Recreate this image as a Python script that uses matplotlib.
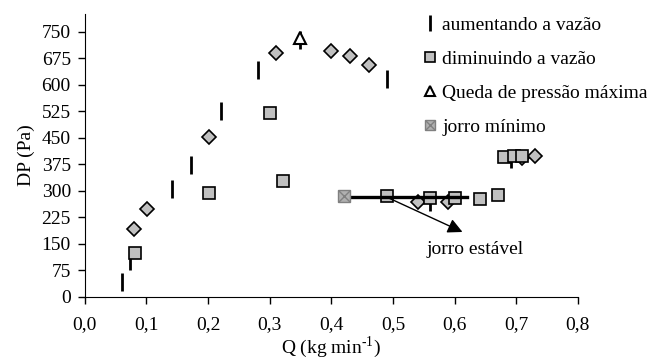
import matplotlib.pyplot as plt
from matplotlib.ticker import MultipleLocator, FuncFormatter

plt.rcParams['font.family'] = ['Liberation Serif', 'DejaVu Serif']
plt.rcParams['mathtext.fontset'] = 'custom'
plt.rcParams['mathtext.rm'] = 'Liberation Serif'

# aumentando a vazão
q_up = [0.061, 0.073, 0.141, 0.172, 0.221, 0.281, 0.350, 0.491, 0.560, 0.691]
dp_up = [42, 100, 305, 374, 527, 643, 728, 615, 268, 390]

# diminuindo a vazão
q_down = [0.081, 0.201, 0.300, 0.321, 0.490, 0.561, 0.601, 0.641, 0.671, 0.680, 0.696, 0.710]
dp_down = [123, 295, 520, 328, 284, 279, 279, 276, 288, 395, 399, 399]

# pontos sem legenda (losangos)
q_dia = [0.080, 0.101, 0.201, 0.311, 0.399, 0.431, 0.461, 0.540, 0.589, 0.710, 0.730]
dp_dia = [191, 249, 451, 690, 696, 682, 656, 268, 268, 392, 399]

# queda de pressão máxima e jorro mínimo
q_max, dp_max = [0.350], [731]
q_min, dp_min = [0.420], [285]

# jorro estável
q_est = [0.420, 0.620]
dp_est = [281, 281]

fig = plt.figure(figsize=(6.47, 3.61), dpi=100)
ax = fig.add_axes([0.131, 0.178, 0.762, 0.783])

gray = '#c0c0c0'
ax.plot(q_dia, dp_dia, ls='none', marker='D', ms=7, mfc=gray, mec='black', mew=1.2, zorder=2)
h_up, = ax.plot(q_up, dp_up, ls='none', marker='|', ms=13, mew=2, color='black', zorder=3)
h_down, = ax.plot(q_down, dp_down, ls='none', marker='s', ms=9, mfc=gray, mec='black', mew=1.2, zorder=4)
ax.plot(q_est, dp_est, color='black', lw=2.4, zorder=5)
h_min1, = ax.plot(q_min, dp_min, ls='none', marker='s', ms=9, mfc='#b0b0b0', mec='#808080', mew=1, zorder=6)
h_min2, = ax.plot(q_min, dp_min, ls='none', marker='x', ms=8, mec='#808080', mew=1, zorder=7)
h_max, = ax.plot(q_max, dp_max, ls='none', marker='^', ms=9, mfc='white', mec='black', mew=1.5, zorder=8)

ax.annotate('', xy=(0.617, 180), xytext=(0.49, 282),
            arrowprops=dict(arrowstyle='-|>', mutation_scale=22, lw=1, color='black'), zorder=5)
ax.text(0.634, 135, 'jorro estável', ha='center', va='center', fontsize=14)

ax.set_xlim(0, 0.8)
ax.set_ylim(0, 800)
ax.xaxis.set_major_locator(MultipleLocator(0.1))
ax.set_yticks(range(0, 751, 75))
ax.xaxis.set_major_formatter(FuncFormatter(lambda v, p: f'{v:.1f}'.replace('.', ',')))
ax.tick_params(axis='both', labelsize=14, direction='out', length=5, width=1)
ax.tick_params(axis='x', pad=9)
ax.tick_params(axis='y', pad=5)
for side in ['top', 'right']:
    ax.spines[side].set_visible(False)

ax.set_xlabel('Q (kg min$^{\\mathregular{\u20101}}$)', fontsize=14, labelpad=1)
ax.set_ylabel('DP (Pa)', fontsize=14, labelpad=5)

ax.legend([h_up, h_down, h_max, (h_min1, h_min2)],
          ['aumentando a vazão', 'diminuindo a vazão', 'Queda de pressão máxima', 'jorro mínimo'],
          loc='upper left', bbox_to_anchor=(0.67, 1.02), frameon=False, fontsize=14,
          markerscale=0.85, handlelength=0.7, handletextpad=0.3, labelspacing=0.85, borderaxespad=0)

fig.savefig('out.png', dpi=100)
